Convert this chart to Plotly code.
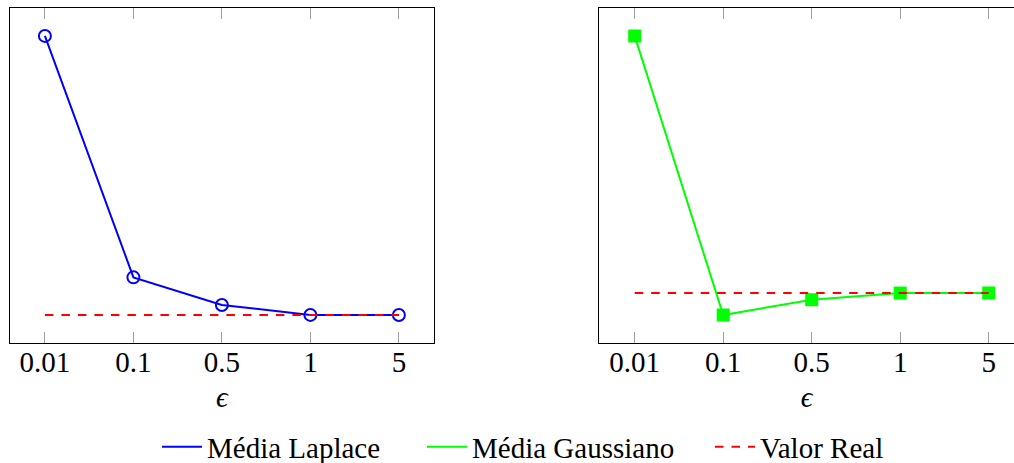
import plotly.graph_objects as go

eps_labels = ["0.01", "0.1", "0.5", "1", "5"]
media_laplace = [60.0, 16.76, 11.80, 10.03, 10.02]
media_gaussiano = [60.0, 5.70, 8.69, 9.98, 10.0]
valor_real = [10.0, 10.0, 10.0, 10.0, 10.0]

BLUE = "#0000FF"
GREEN = "#00FF00"
RED = "#FF0000"
FONT = "Liberation Serif"
DASH = "8.5px,8px"

W, H = 1014, 463
fig = go.Figure()

# Left panel
fig.add_trace(go.Scatter(x=eps_labels, y=media_laplace, mode="lines+markers",
                         line=dict(color=BLUE, width=2),
                         marker=dict(symbol="circle-open", size=12, color=BLUE, line=dict(width=2, color=BLUE)),
                         showlegend=False, xaxis="x", yaxis="y"))
fig.add_trace(go.Scatter(x=eps_labels, y=valor_real, mode="lines",
                         line=dict(color=RED, width=2, dash=DASH),
                         showlegend=False, xaxis="x", yaxis="y"))
# Right panel
fig.add_trace(go.Scatter(x=eps_labels, y=media_gaussiano, mode="lines+markers",
                         line=dict(color=GREEN, width=2),
                         marker=dict(symbol="square", size=13, color=GREEN),
                         showlegend=False, xaxis="x2", yaxis="y2"))
fig.add_trace(go.Scatter(x=eps_labels, y=valor_real, mode="lines",
                         line=dict(color=RED, width=2, dash=DASH),
                         showlegend=False, xaxis="x2", yaxis="y2"))

# Legend entries (lines only), each in its own legend box
legend_items = [("Média Laplace", BLUE, "solid", "legend"),
                ("Média Gaussiano", GREEN, "solid", "legend2"),
                ("Valor Real", RED, DASH, "legend3")]
for name, col, dash, lg in legend_items:
    fig.add_trace(go.Scatter(x=[None], y=[None], mode="lines", name=name, legend=lg,
                             line=dict(color=col, width=2, dash=dash), xaxis="x", yaxis="y"))


def yrange(*series):
    vals = [v for s in series for v in s]
    lo, hi = min(vals), max(vals)
    pad = 0.1 * (hi - lo)
    return [lo - pad, hi + pad]


xcommon = dict(type="category", showline=True, linecolor="black", linewidth=1.2, mirror="ticks",
               ticks="inside", ticklen=11, tickcolor="#a0a0a0", tickwidth=1.2,
               showgrid=False, zeroline=False, ticklabelstandoff=-7,
               tickfont=dict(family=FONT, size=29, color="black"),
               title=dict(text="<i>ϵ</i>", font=dict(family=FONT, size=29, color="black"), standoff=9))
ycommon = dict(showline=True, linecolor="black", linewidth=1.2, ticks="", showticklabels=False,
               showgrid=False, zeroline=False)

left_dom = [9.5 / W, 434.3 / W]
right_dom = [599.3 / W, 1.0]

leg_common = dict(orientation="h", xanchor="left", y=-0.31, yanchor="middle",
                  font=dict(family=FONT, size=29, color="black"), bgcolor="rgba(0,0,0,0)",
                  itemwidth=40)

fig.update_layout(
    width=W, height=H,
    margin=dict(l=0, r=0, t=8, b=120, autoexpand=False),
    paper_bgcolor="white", plot_bgcolor="white",
    xaxis=dict(**xcommon, domain=left_dom, range=[-0.4, 4.4]),
    yaxis=dict(**ycommon, mirror=True, range=yrange(media_laplace, valor_real)),
    xaxis2=dict(**xcommon, domain=right_dom, range=[-0.4, -0.4 + (W - 599.3) / 88.5], anchor="y2"),
    yaxis2=dict(**ycommon, mirror=False, anchor="x2", range=yrange(media_gaussiano, valor_real)),
    legend=dict(**leg_common, x=157 / W),
    legend2=dict(**leg_common, x=422 / W),
    legend3=dict(**leg_common, x=710 / W),
)

fig.write_html("out.html", config={"displayModeBar": False},
               post_script="document.body.style.margin='0';document.body.style.overflow='hidden';")
